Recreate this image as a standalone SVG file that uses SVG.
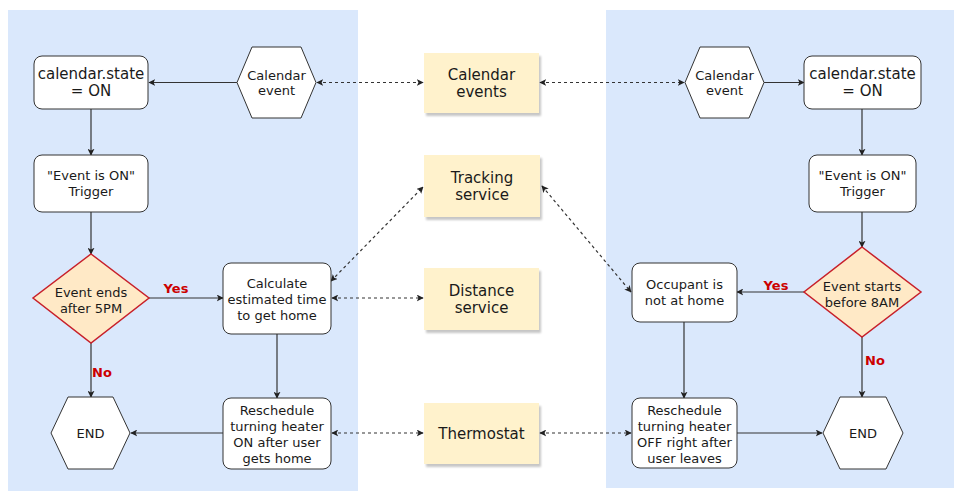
<svg xmlns="http://www.w3.org/2000/svg" width="954" height="491" viewBox="0 0 954 491">
  <defs>
    <marker id="arrow" viewBox="0 0 10 10" refX="9" refY="5" markerWidth="7" markerHeight="7" orient="auto-start-reverse" markerUnits="userSpaceOnUse">
      <path d="M0,0 L10,5 L0,10 L2.5,5 z" fill="#222"/>
    </marker>
    <filter id="shadow" x="-10%" y="-10%" width="130%" height="130%">
      <feGaussianBlur stdDeviation="1"/>
    </filter>
  </defs>
  <style>
    text { font-family: "DejaVu Sans", Verdana, sans-serif; font-size: 13px; fill: #1a1a1a; text-anchor: middle; }
    .big { font-size: 15px; }
    .svc { font-size: 15px; }
    .lbl { font-weight: bold; fill: #cc0000; font-size: 13px; }
    .panel { fill: #dae8fc; }
    .box { fill: #ffffff; stroke: #333; stroke-width: 1; }
    .hex { fill: #ffffff; stroke: #333; stroke-width: 1; }
    .dec { fill: #ffe9c6; stroke: #c8202a; stroke-width: 1.5; }
    .svcbox { fill: #fff2cc; }
    .shade { fill: #000; opacity: 0.22; filter: url(#shadow); }
    .flow { stroke: #333; stroke-width: 1.2; fill: none; marker-end: url(#arrow); }
    .link { stroke: #333; stroke-width: 1.2; fill: none; stroke-dasharray: 3 3; marker-start: url(#arrow); marker-end: url(#arrow); }
  </style>

  <rect width="954" height="491" fill="#ffffff"/>

  <!-- swimlane backgrounds -->
  <rect class="panel" x="8" y="10" width="350" height="481"/>
  <rect class="panel" x="606" y="10" width="348" height="478"/>

  <!-- connectors -->
  <g id="connectors">
    <!-- left flow -->
    <line class="flow" x1="237" y1="82.5" x2="149" y2="82.5"/>
    <line class="flow" x1="91" y1="109" x2="91" y2="155"/>
    <line class="flow" x1="91" y1="212" x2="91" y2="254"/>
    <line class="flow" x1="149" y1="298" x2="223" y2="298"/>
    <line class="flow" x1="91" y1="343" x2="91" y2="397"/>
    <line class="flow" x1="277" y1="334" x2="277" y2="398"/>
    <line class="flow" x1="223" y1="433" x2="131" y2="433"/>
    <!-- right flow -->
    <line class="flow" x1="764" y1="82.5" x2="804" y2="82.5"/>
    <line class="flow" x1="862" y1="109" x2="862" y2="155"/>
    <line class="flow" x1="862" y1="212" x2="862" y2="247"/>
    <line class="flow" x1="804" y1="292" x2="737" y2="292"/>
    <line class="flow" x1="862" y1="337" x2="862" y2="397"/>
    <line class="flow" x1="684" y1="322" x2="684" y2="398"/>
    <line class="flow" x1="737" y1="433" x2="822" y2="433"/>
    <!-- service links -->
    <line class="link" x1="317" y1="82.5" x2="423" y2="82.5"/>
    <line class="link" x1="540" y1="82.5" x2="684" y2="82.5"/>
    <line class="link" x1="331" y1="281" x2="423" y2="187"/>
    <line class="link" x1="542" y1="186" x2="631" y2="292"/>
    <line class="link" x1="332" y1="298" x2="423" y2="298"/>
    <line class="link" x1="332" y1="433" x2="423" y2="433"/>
    <line class="link" x1="540" y1="433" x2="631" y2="433"/>
    <!-- branch labels -->
    <text class="lbl" x="176" y="293">Yes</text>
    <text class="lbl" x="102" y="377">No</text>
    <text class="lbl" x="776" y="290">Yes</text>
    <text class="lbl" x="875" y="365">No</text>
  </g>

  <!-- left lane nodes -->
  <g id="left-state">
    <rect class="box" x="34" y="56" width="114" height="53" rx="8"/>
    <text class="big" x="91" y="79">calendar.state</text>
    <text class="big" x="91" y="96">= ON</text>
  </g>
  <g id="left-calendar-event">
    <polygon class="hex" points="237,82.5 252,47 301,47 316,82.5 301,118 252,118"/>
    <text x="276.5" y="80">Calendar</text>
    <text x="276.5" y="95">event</text>
  </g>
  <g id="left-trigger">
    <rect class="box" x="34" y="155" width="114" height="57" rx="8"/>
    <text x="91" y="180">"Event is ON"</text>
    <text x="91" y="196">Trigger</text>
  </g>
  <g id="left-decision">
    <polygon class="dec" points="91,254 149,298 91,343 33,298"/>
    <text x="91" y="297">Event ends</text>
    <text x="91" y="313">after 5PM</text>
  </g>
  <g id="left-calculate">
    <rect class="box" x="223" y="263" width="108" height="71" rx="8"/>
    <text x="277" y="288">Calculate</text>
    <text x="277" y="304">estimated time</text>
    <text x="277" y="320">to get home</text>
  </g>
  <g id="left-reschedule">
    <rect class="box" x="223" y="398" width="108" height="71" rx="8"/>
    <text x="277" y="415">Reschedule</text>
    <text x="277" y="431">turning heater</text>
    <text x="277" y="447">ON after user</text>
    <text x="277" y="463">gets home</text>
  </g>
  <g id="left-end">
    <polygon class="hex" points="51,433 68,397 113,397 130,433 113,469 68,469"/>
    <text x="90.5" y="438">END</text>
  </g>

  <!-- shared services -->
  <g id="svc-calendar">
    <rect class="shade" x="426" y="56" width="115" height="60"/>
    <rect class="svcbox" x="424" y="53" width="115" height="60"/>
    <text class="svc" x="481.5" y="80">Calendar</text>
    <text class="svc" x="481.5" y="97">events</text>
  </g>
  <g id="svc-tracking">
    <rect class="shade" x="426" y="158" width="116" height="62"/>
    <rect class="svcbox" x="424" y="155" width="116" height="62"/>
    <text class="svc" x="482" y="183">Tracking</text>
    <text class="svc" x="482" y="200">service</text>
  </g>
  <g id="svc-distance">
    <rect class="shade" x="426" y="271" width="115" height="62"/>
    <rect class="svcbox" x="424" y="268" width="115" height="62"/>
    <text class="svc" x="481.5" y="296">Distance</text>
    <text class="svc" x="481.5" y="313">service</text>
  </g>
  <g id="svc-thermostat">
    <rect class="shade" x="426" y="406" width="115" height="61"/>
    <rect class="svcbox" x="424" y="403" width="115" height="61"/>
    <text class="svc" x="481.5" y="439">Thermostat</text>
  </g>

  <!-- right lane nodes -->
  <g id="right-calendar-event">
    <polygon class="hex" points="685,82.5 700,47 749,47 764,82.5 749,118 700,118"/>
    <text x="724.5" y="80">Calendar</text>
    <text x="724.5" y="95">event</text>
  </g>
  <g id="right-state">
    <rect class="box" x="804" y="56" width="117" height="53" rx="8"/>
    <text class="big" x="862.5" y="79">calendar.state</text>
    <text class="big" x="862.5" y="96">= ON</text>
  </g>
  <g id="right-trigger">
    <rect class="box" x="809" y="155" width="107" height="57" rx="8"/>
    <text x="862.5" y="180">"Event is ON"</text>
    <text x="862.5" y="196">Trigger</text>
  </g>
  <g id="right-decision">
    <polygon class="dec" points="862,247 921,292 862,337 804,292"/>
    <text x="862" y="291">Event starts</text>
    <text x="862" y="307">before 8AM</text>
  </g>
  <g id="right-occupant">
    <rect class="box" x="632" y="263" width="105" height="59" rx="8"/>
    <text x="684.5" y="289">Occupant is</text>
    <text x="684.5" y="305">not at home</text>
  </g>
  <g id="right-reschedule">
    <rect class="box" x="632" y="398" width="105" height="70" rx="8"/>
    <text x="684.5" y="415">Reschedule</text>
    <text x="684.5" y="431">turning heater</text>
    <text x="684.5" y="447">OFF right after</text>
    <text x="684.5" y="463">user leaves</text>
  </g>
  <g id="right-end">
    <polygon class="hex" points="823,433 840,397 886,397 903,433 886,469 840,469"/>
    <text x="863" y="438">END</text>
  </g>
</svg>
